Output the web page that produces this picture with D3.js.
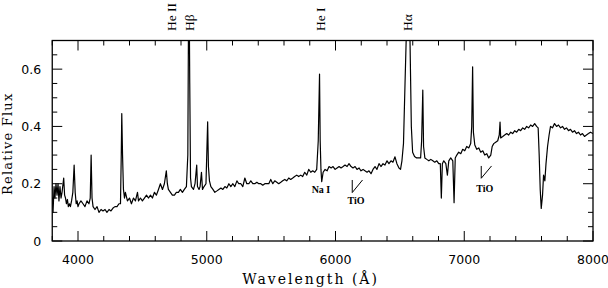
<!DOCTYPE html>
<html>
<head>
<meta charset="utf-8">
<script src="https://cdn.jsdelivr.net/npm/d3@7"></script>
<style>
  html, body { margin: 0; padding: 0; background: #fff; }
  svg { display: block; }
</style>
</head>
<body>
<div id="chart"></div>
<script>
// spectrum: wavelength (A) and relative flux
const wavelength = [
  3800, 3806, 3814, 3821, 3829, 3837, 3845, 3852, 3860, 3868, 3876, 3889, 3896, 3903, 3910, 3918,
  3925, 3933, 3941, 3950, 3960, 3970, 3978, 3986, 3993, 4000, 4008, 4023, 4039, 4054, 4070, 4085,
  4095, 4102, 4109, 4117, 4132, 4148, 4163, 4179, 4194, 4210, 4225, 4241, 4256, 4272, 4287, 4303,
  4318, 4330, 4336, 4340, 4346, 4353, 4361, 4368, 4384, 4400, 4415, 4431, 4446, 4462, 4470, 4485,
  4500, 4516, 4532, 4547, 4563, 4578, 4594, 4609, 4625, 4640, 4656, 4671, 4686, 4694, 4702, 4718,
  4733, 4749, 4764, 4780, 4795, 4811, 4826, 4842, 4853, 4858, 4862, 4868, 4874, 4881, 4897, 4909,
  4922, 4928, 4940, 4948, 4959, 4967, 4979, 4994, 5007, 5013, 5021, 5032, 5048, 5063, 5079, 5094,
  5110, 5125, 5141, 5156, 5172, 5187, 5203, 5218, 5234, 5249, 5265, 5280, 5296, 5311, 5327, 5342,
  5358, 5373, 5389, 5404, 5420, 5435, 5451, 5466, 5482, 5497, 5513, 5528, 5544, 5559, 5575, 5590,
  5606, 5621, 5637, 5652, 5668, 5683, 5699, 5714, 5730, 5745, 5761, 5777, 5792, 5808, 5823, 5839,
  5854, 5866, 5876, 5881, 5887, 5893, 5904, 5919, 5935, 5950, 5966, 5981, 5997, 6012, 6028, 6043,
  6059, 6074, 6090, 6105, 6121, 6136, 6152, 6167, 6183, 6198, 6214, 6229, 6245, 6260, 6276, 6291,
  6307, 6322, 6338, 6353, 6369, 6384, 6400, 6415, 6431, 6446, 6462, 6477, 6493, 6505, 6516, 6528,
  6540, 6550, 6563, 6578, 6589, 6599, 6614, 6630, 6645, 6661, 6669, 6678, 6684, 6694, 6709, 6725,
  6740, 6756, 6771, 6787, 6802, 6814, 6822, 6830, 6841, 6857, 6869, 6880, 6895, 6911, 6921, 6930,
  6942, 6957, 6973, 6988, 7004, 7019, 7035, 7050, 7058, 7065, 7071, 7082, 7097, 7113, 7128, 7144,
  7159, 7175, 7190, 7206, 7217, 7229, 7244, 7260, 7272, 7278, 7283, 7299, 7314, 7330, 7345, 7361,
  7376, 7392, 7407, 7423, 7438, 7454, 7469, 7485, 7500, 7516, 7531, 7547, 7562, 7574, 7582, 7590,
  7598, 7608, 7616, 7626, 7635, 7647, 7659, 7670, 7686, 7701, 7717, 7732, 7748, 7763, 7779, 7794,
  7810, 7825, 7841, 7856, 7872, 7887, 7903, 7918, 7934, 7949, 7965, 7980, 8000
];
const flux = [
  0.15, 0.10, 0.19, 0.15, 0.20, 0.16, 0.20, 0.14, 0.19, 0.15, 0.17, 0.22, 0.16, 0.15, 0.13, 0.145,
  0.12, 0.13, 0.12, 0.14, 0.17, 0.265, 0.17, 0.13, 0.14, 0.12, 0.13, 0.14, 0.13, 0.12, 0.14, 0.13,
  0.15, 0.30, 0.15, 0.12, 0.11, 0.12, 0.10, 0.11, 0.105, 0.11, 0.10, 0.11, 0.105, 0.115, 0.12, 0.12,
  0.13, 0.13, 0.30, 0.445, 0.30, 0.18, 0.15, 0.17, 0.14, 0.15, 0.13, 0.15, 0.14, 0.17, 0.14, 0.15,
  0.14, 0.15, 0.16, 0.15, 0.16, 0.15, 0.17, 0.16, 0.18, 0.20, 0.18, 0.20, 0.245, 0.20, 0.18, 0.17,
  0.16, 0.16, 0.17, 0.17, 0.18, 0.17, 0.18, 0.19, 0.30, 0.75, 0.95, 0.55, 0.22, 0.19, 0.18, 0.20,
  0.265, 0.19, 0.18, 0.19, 0.24, 0.18, 0.19, 0.20, 0.416, 0.26, 0.21, 0.19, 0.18, 0.17, 0.175, 0.18,
  0.185, 0.18, 0.19, 0.185, 0.20, 0.19, 0.20, 0.19, 0.21, 0.20, 0.20, 0.19, 0.22, 0.20, 0.20, 0.21,
  0.20, 0.20, 0.205, 0.20, 0.20, 0.195, 0.20, 0.20, 0.20, 0.215, 0.20, 0.21, 0.205, 0.20, 0.205, 0.21,
  0.215, 0.21, 0.22, 0.215, 0.22, 0.225, 0.23, 0.225, 0.23, 0.225, 0.24, 0.23, 0.25, 0.24, 0.245, 0.24,
  0.25, 0.35, 0.583, 0.35, 0.25, 0.207, 0.24, 0.25, 0.245, 0.26, 0.255, 0.26, 0.25, 0.255, 0.26, 0.255,
  0.26, 0.265, 0.26, 0.27, 0.26, 0.255, 0.26, 0.25, 0.255, 0.245, 0.25, 0.245, 0.24, 0.245, 0.235, 0.25,
  0.26, 0.25, 0.27, 0.26, 0.27, 0.265, 0.28, 0.27, 0.28, 0.275, 0.294, 0.27, 0.255, 0.25, 0.28, 0.34,
  0.55, 0.72, 0.98, 0.72, 0.40, 0.31, 0.295, 0.29, 0.29, 0.29, 0.35, 0.527, 0.33, 0.29, 0.285, 0.28,
  0.285, 0.28, 0.275, 0.28, 0.27, 0.27, 0.15, 0.27, 0.28, 0.27, 0.23, 0.28, 0.29, 0.28, 0.134, 0.29,
  0.30, 0.31, 0.305, 0.32, 0.315, 0.33, 0.325, 0.34, 0.40, 0.608, 0.38, 0.335, 0.32, 0.325, 0.31, 0.315,
  0.30, 0.305, 0.29, 0.30, 0.33, 0.34, 0.345, 0.35, 0.37, 0.415, 0.36, 0.365, 0.37, 0.375, 0.37, 0.38,
  0.375, 0.385, 0.38, 0.39, 0.385, 0.395, 0.39, 0.40, 0.395, 0.405, 0.40, 0.41, 0.40, 0.395, 0.30, 0.18,
  0.114, 0.16, 0.23, 0.21, 0.27, 0.33, 0.37, 0.40, 0.395, 0.41, 0.40, 0.405, 0.395, 0.40, 0.39, 0.395,
  0.385, 0.39, 0.38, 0.385, 0.375, 0.38, 0.37, 0.375, 0.365, 0.37, 0.375, 0.38, 0.375
];

// axis ticks
const xTicks = [4000, 5000, 6000, 7000, 8000];
const yTicks = [0, 0.2, 0.4, 0.6];

// line labels above the frame
const lineNames = ["He II", "H\u03B2", "He I", "H\u03B1"];
const lineLabelAt = [4725, 4868, 5884, 6557];

// small labels inside the frame
const noteNames = ["Na I", "TiO", "TiO"];
const noteLambda = [5887, 6160, 7160];
const noteFlux = [0.168, 0.129, 0.171];

// TiO band-head markers
const tioLambda = [6130, 7132];
const tioTop = [0.213, 0.262];
const tioBottom = [0.169, 0.219];
const tioSlant = 80;

const width = 608, height = 288;
const margin = {top: 40.5, right: 15, bottom: 47, left: 52.25};

const svg = d3.select("#chart").append("svg")
    .attr("width", width)
    .attr("height", height);

const x = d3.scaleLinear().domain([3800, 8000]).range([margin.left, width - margin.right]);
const y = d3.scaleLinear().domain([0, 0.7]).range([height - margin.bottom, margin.top]);

const x0 = x.range()[0], x1 = x.range()[1];
const y0 = y.range()[0], y1 = y.range()[1];

svg.append("clipPath").attr("id", "plot")
  .append("rect")
    .attr("x", x0).attr("y", y1)
    .attr("width", x1 - x0).attr("height", y0 - y1);

// spectrum
const line = d3.line()
    .x((d, i) => x(wavelength[i]))
    .y(d => y(d));

svg.append("path")
    .datum(flux)
    .attr("clip-path", "url(#plot)")
    .attr("fill", "none")
    .attr("stroke", "#000")
    .attr("stroke-width", 1.2)
    .attr("stroke-linejoin", "round")
    .attr("d", line);

// ticks pointing inward on all four sides
const xMinor = d3.range(3800, 8001, 200);
const yMinor = d3.range(0, 0.701, 0.05);
const isMajorX = v => v % 1000 === 0;
const isMajorY = v => Math.abs(v / 0.2 - Math.round(v / 0.2)) < 1e-6;

const ticks = svg.append("g").attr("stroke", "#000").attr("stroke-width", 1);
xMinor.forEach(v => {
  const len = isMajorX(v) ? 10 : 5;
  ticks.append("line").attr("x1", x(v)).attr("x2", x(v)).attr("y1", y0).attr("y2", y0 - len);
  ticks.append("line").attr("x1", x(v)).attr("x2", x(v)).attr("y1", y1).attr("y2", y1 + len);
});
yMinor.forEach(v => {
  const len = isMajorY(v) ? 10 : 5;
  ticks.append("line").attr("x1", x0).attr("x2", x0 + len).attr("y1", y(v)).attr("y2", y(v));
  ticks.append("line").attr("x1", x1).attr("x2", x1 - len).attr("y1", y(v)).attr("y2", y(v));
});

// frame
svg.append("rect")
    .attr("x", x0).attr("y", y1)
    .attr("width", x1 - x0).attr("height", y0 - y1)
    .attr("fill", "none")
    .attr("stroke", "#000")
    .attr("stroke-width", 1.3);

// tick labels
svg.append("g").selectAll("text")
  .data(xTicks)
  .join("text")
    .attr("x", d => x(d))
    .attr("y", y0 + 23)
    .attr("text-anchor", "middle")
    .attr("font-family", "DejaVu Sans")
    .attr("font-size", 12.5)
    .text(d => d);

svg.append("g").selectAll("text")
  .data(yTicks)
  .join("text")
    .attr("x", x0 - 11)
    .attr("y", d => y(d))
    .attr("dy", "0.36em")
    .attr("text-anchor", "end")
    .attr("font-family", "DejaVu Sans")
    .attr("font-size", 12.5)
    .text(d => d === 0 ? "0" : d.toFixed(1));

// axis titles
svg.append("text")
    .attr("x", (x0 + x1) / 2 - 12)
    .attr("y", height - 4)
    .attr("text-anchor", "middle")
    .attr("font-family", "DejaVu Serif")
    .attr("font-size", 14)
    .attr("letter-spacing", 2)
    .text("Wavelength (\u00C5)");

svg.append("text")
    .attr("transform", `translate(12,${(y0 + y1) / 2 + 3}) rotate(-90)`)
    .attr("text-anchor", "middle")
    .attr("font-family", "DejaVu Serif")
    .attr("font-size", 13)
    .attr("letter-spacing", 1.2)
    .text("Relative Flux");

// emission line labels, vertical, above the frame
svg.append("g").selectAll("text")
  .data(lineNames)
  .join("text")
    .attr("transform", (d, i) => `translate(${x(lineLabelAt[i])},31) rotate(-90)`)
    .attr("dy", "0.35em")
    .attr("font-family", "Liberation Serif")
    .attr("font-size", 13.5)
    .text(d => d);

// Na I / TiO labels
svg.append("g").selectAll("text")
  .data(noteNames)
  .join("text")
    .attr("x", (d, i) => x(noteLambda[i]))
    .attr("y", (d, i) => y(noteFlux[i]))
    .attr("text-anchor", "middle")
    .attr("font-family", "Liberation Serif")
    .attr("font-weight", "bold")
    .attr("font-size", 10)
    .text(d => d);

// TiO markers
const marks = svg.append("g").attr("stroke", "#000").attr("stroke-width", 1).attr("fill", "none");
tioLambda.forEach((l, i) => {
  marks.append("line")
      .attr("x1", x(l)).attr("x2", x(l))
      .attr("y1", y(tioTop[i])).attr("y2", y(tioBottom[i]));
  marks.append("line")
      .attr("x1", x(l)).attr("x2", x(l + tioSlant))
      .attr("y1", y(tioBottom[i])).attr("y2", y(tioTop[i]));
});
</script>
</body>
</html>
